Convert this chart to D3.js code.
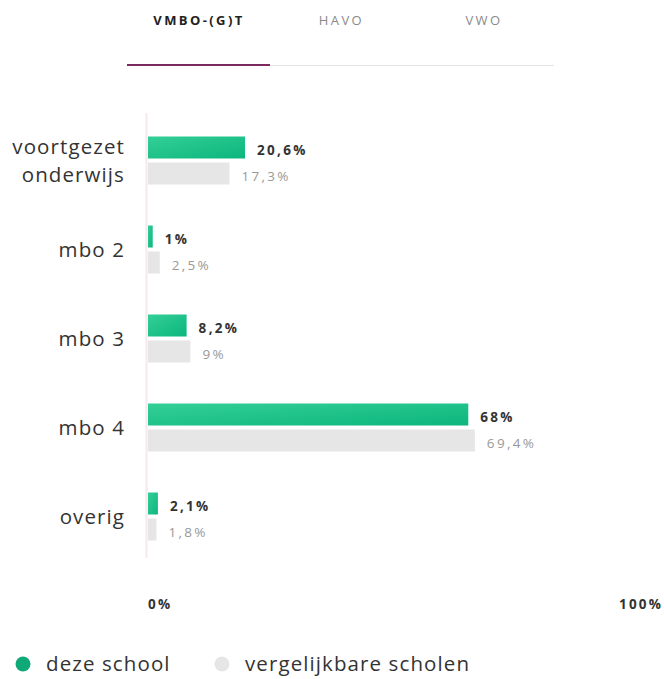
<!DOCTYPE html>
<html>
<head>
<meta charset="utf-8">
<script src="https://cdn.jsdelivr.net/npm/d3@7"></script>
<style>
  body { margin: 0; background: #fff; }
  svg { display: block; font-family: "Open Sans", sans-serif; }
</style>
</head>
<body>
<svg width="664" height="679"></svg>
<script>
const tabs = ["VMBO-(G)T", "HAVO", "VWO"];
const categories = [["voortgezet", "onderwijs"], ["mbo 2"], ["mbo 3"], ["mbo 4"], ["overig"]];
const schoolValues = [20.6, 1, 8.2, 68, 2.1];
const compareValues = [17.3, 2.5, 9, 69.4, 1.8];
const axisTicks = [0, 100];
const legendLabels = ["deze school", "vergelijkbare scholen"];

var svg = d3.select("svg");

var fmt = v => String(v).replace(".", ",") + "%";

// tabs
var tabX = d3.scalePoint().domain(tabs).range([199, 484]);
svg.selectAll(".tab")
  .data(tabs)
  .enter()
  .append("text")
  .attr("x", d => tabX(d))
  .attr("y", 25)
  .attr("text-anchor", "middle")
  .attr("font-size", 13)
  .attr("letter-spacing", 2.4)
  .attr("font-weight", (d, i) => i === 0 ? "bold" : "normal")
  .attr("fill", (d, i) => i === 0 ? "#222" : "#8a8a8a")
  .text(d => d);

svg.append("line")
  .attr("x1", 127).attr("x2", 554)
  .attr("y1", 65.5).attr("y2", 65.5)
  .style("stroke", "#e4e4e4").style("stroke-width", 1);
svg.append("line")
  .attr("x1", 127).attr("x2", 270)
  .attr("y1", 65).attr("y2", 65)
  .style("stroke", "#7a2a5e").style("stroke-width", 2);

// gradient for green bars
var grad = svg.append("defs").append("linearGradient")
  .attr("id", "green").attr("x1", "0%").attr("x2", "100%").attr("y1", "0%").attr("y2", "100%");
grad.append("stop").attr("offset", "0%").attr("stop-color", "#34cf98");
grad.append("stop").attr("offset", "100%").attr("stop-color", "#0bb67c");

var x = d3.scaleLinear().domain([0, 100]).range([148, 619]);
var y = d3.scaleBand().domain(d3.range(categories.length)).range([116, 561]);

// axis line
svg.append("line")
  .attr("x1", 146.5).attr("x2", 146.5)
  .attr("y1", 113).attr("y2", 558)
  .style("stroke", "#f6e8ee").style("stroke-width", 2);

var g = svg.selectAll(".group")
  .data(categories)
  .enter()
  .append("g")
  .attr("transform", (d, i) => "translate(0," + (y(i) + y.bandwidth() / 2) + ")");

// category labels
g.append("text")
  .attr("text-anchor", "end")
  .attr("font-size", 20.5)
  .attr("letter-spacing", 1.1)
  .attr("fill", "#333")
  .each(function(d) {
    var t = d3.select(this);
    var start = d.length === 1 ? 7 : -7;
    d.forEach((line, j) => {
      t.append("tspan").attr("x", 125).attr("y", start + j * 28).text(line);
    });
  });

// school bars
g.append("rect")
  .attr("x", x(0))
  .attr("y", -24)
  .attr("height", 22)
  .attr("width", (d, i) => x(schoolValues[i]) - x(0))
  .attr("fill", "url(#green)");

g.append("text")
  .attr("x", (d, i) => x(schoolValues[i]) + 12)
  .attr("y", -6)
  .attr("font-size", 13.5)
  .attr("font-weight", "bold")
  .attr("letter-spacing", 2.3)
  .attr("fill", "#333")
  .text((d, i) => fmt(schoolValues[i]));

// comparison bars
g.append("rect")
  .attr("x", x(0))
  .attr("y", 2)
  .attr("height", 22)
  .attr("width", (d, i) => x(compareValues[i]) - x(0))
  .attr("fill", "#e6e6e6");

g.append("text")
  .attr("x", (d, i) => x(compareValues[i]) + 12)
  .attr("y", 20)
  .attr("font-size", 13.5)
  .attr("letter-spacing", 2.3)
  .attr("fill", "#999")
  .text((d, i) => fmt(compareValues[i]));

// axis tick labels
svg.selectAll(".tick")
  .data(axisTicks)
  .enter()
  .append("text")
  .attr("x", d => x(d))
  .attr("y", 609)
  .attr("font-size", 13.5)
  .attr("font-weight", "bold")
  .attr("letter-spacing", 2.2)
  .attr("fill", "#333")
  .text(d => d + "%");

// legend
var legendX = [23, 222];
var legendColors = ["#0fa877", "#e6e6e6"];
var lg = svg.selectAll(".legend")
  .data(legendLabels)
  .enter()
  .append("g")
  .attr("transform", (d, i) => "translate(" + legendX[i] + ",664)");
lg.append("circle").attr("r", 7.5).attr("fill", (d, i) => legendColors[i]);
lg.append("text")
  .attr("x", 23)
  .attr("y", 7)
  .attr("font-size", 20.5)
  .attr("letter-spacing", 1.1)
  .attr("fill", "#333")
  .text(d => d);
</script>
</body>
</html>
